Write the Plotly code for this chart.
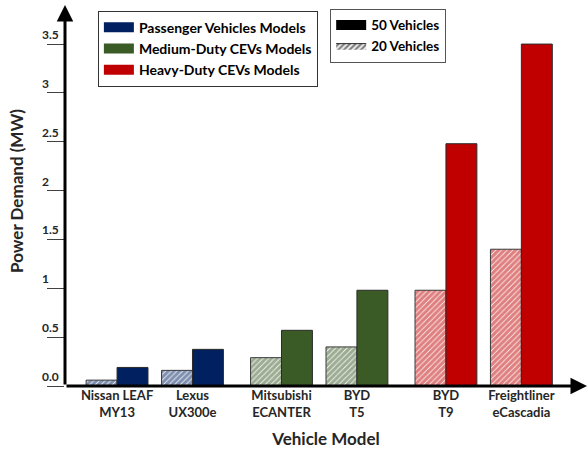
import plotly.graph_objects as go

# ---- data ----
models = ["Nissan LEAF<br>MY13", "Lexus<br>UX300e", "Mitsubishi<br>ECANTER",
          "BYD<br>T5", "BYD<br>T9", "Freightliner<br>eCascadia"]
vehicle_class = [0, 0, 1, 1, 2, 2]   # 0 passenger, 1 medium-duty, 2 heavy-duty
power_20 = [0.06, 0.16, 0.29, 0.40, 0.98, 1.40]
power_50 = [0.19, 0.375, 0.57, 0.98, 2.48, 3.50]
class_names = ["Passenger Vehicles Models", "Medium-Duty CEVs Models", "Heavy-Duty CEVs Models"]
class_colors = ["#002060", "#3A5A26", "#C00000"]
y_tickvals = [0, 0.5, 1, 1.5, 2, 2.5, 3, 3.5]
y_ticktext = ["0.0", "0.5", "1", "1.5", "2", "2.5", "3", "3.5"]

# group positions: unit spacing with an extra gap between vehicle classes
class_gap = 0.18
xpos = [i + class_gap * c for i, c in enumerate(vehicle_class)]
bar_colors = [class_colors[c] for c in vehicle_class]

FONT = "Lato"
TXT = "#262626"
fig = go.Figure()

fig.add_trace(go.Bar(
    x=xpos, y=power_20, width=0.41, offset=-0.41, showlegend=False, name="20 Vehicles",
    marker=dict(color="white", line=dict(color="#3a3a3a", width=1),
                pattern=dict(shape="/", fgcolor=bar_colors, bgcolor="white",
                             size=4, solidity=0.8, fillmode="overlay")),
))
fig.add_trace(go.Bar(
    x=xpos, y=power_50, width=0.41, offset=0, showlegend=False, name="50 Vehicles",
    marker=dict(color=bar_colors, line=dict(color="#2a2a2a", width=1)),
))

# legend 1: vehicle classes
for name, col in zip(class_names, class_colors):
    fig.add_trace(go.Scatter(x=[None], y=[None], name=name, legend="legend",
                             mode="lines", line=dict(color=col, width=11)))
# legend 2: fleet size
fig.add_trace(go.Scatter(x=[None], y=[None], name="50 Vehicles", legend="legend2",
                         mode="lines", line=dict(color="black", width=11)))
fig.add_trace(go.Scatter(x=[None], y=[None], name="20 Vehicles", legend="legend2",
                         mode="lines", fill="toself", fillcolor="white",
                         fillpattern=dict(shape="/", fgcolor="black", bgcolor="white",
                                          size=4, solidity=0.6),
                         line=dict(color="#222", width=1)))

# y tick labels (left aligned, sitting above the tick marks)
for v, t in zip(y_tickvals, y_ticktext):
    fig.add_annotation(text=t, xref="paper", x=-0.048, xanchor="left",
                       yref="y", y=v, yanchor="bottom", yshift=0, showarrow=False,
                       font=dict(family=FONT, size=12, color=TXT, weight="bold"))

# y axis title
fig.add_annotation(text="Power Demand (MW)", xref="paper", yref="paper",
                   x=-0.092, y=0.512, xanchor="center", yanchor="middle",
                   textangle=-90, showarrow=False,
                   font=dict(family=FONT, size=17, color=TXT, weight="bold"))

# axes drawn as arrows
fig.add_annotation(xref="x domain", yref="y domain", x=0, y=1.0, ax=0, ay=0,
                   axref="x domain", ayref="y domain", text="", showarrow=True,
                   arrowhead=2, arrowsize=1.1, arrowwidth=3, arrowcolor="black")
fig.add_annotation(xref="x domain", yref="y domain", x=1.0, y=0, ax=0, ay=0,
                   axref="x domain", ayref="y domain", text="", showarrow=True,
                   arrowhead=2, arrowsize=1.1, arrowwidth=3, arrowcolor="black")

fig.update_layout(
    width=588, height=449,
    margin=dict(l=65, r=1, t=5, b=63),
    paper_bgcolor="white", plot_bgcolor="white",
    barmode="overlay",
    font=dict(family=FONT, color=TXT),
    xaxis=dict(range=[-0.69, 6.23], tickvals=xpos, ticktext=models, automargin=False,
               showline=False, showgrid=False, zeroline=False, ticks="",
               tickfont=dict(family=FONT, size=13, color=TXT, weight="bold"),
               title=dict(text="Vehicle Model", standoff=18,
                          font=dict(family=FONT, size=17, color=TXT, weight="bold"))),
    yaxis=dict(range=[0, 3.9], tickvals=y_tickvals, showticklabels=False, automargin=False,
               ticks="outside", ticklen=17, tickwidth=1, tickcolor="#404040",
               showline=False, showgrid=False, zeroline=False),
    legend=dict(x=0.063, y=0.985, xanchor="left", yanchor="top",
                bordercolor="#333", borderwidth=1, bgcolor="white",
                font=dict(family=FONT, size=14, color="black", weight="bold"),
                tracegroupgap=0, itemclick=False),
    legend2=dict(x=0.508, y=0.99, xanchor="left", yanchor="top",
                 bordercolor="#555", borderwidth=1, bgcolor="white",
                 font=dict(family=FONT, size=13.5, color="black", weight="bold"),
                 tracegroupgap=0),
)

fig.write_html("out.html", config={"displayModeBar": False},
               post_script="document.body.style.margin='0';")
